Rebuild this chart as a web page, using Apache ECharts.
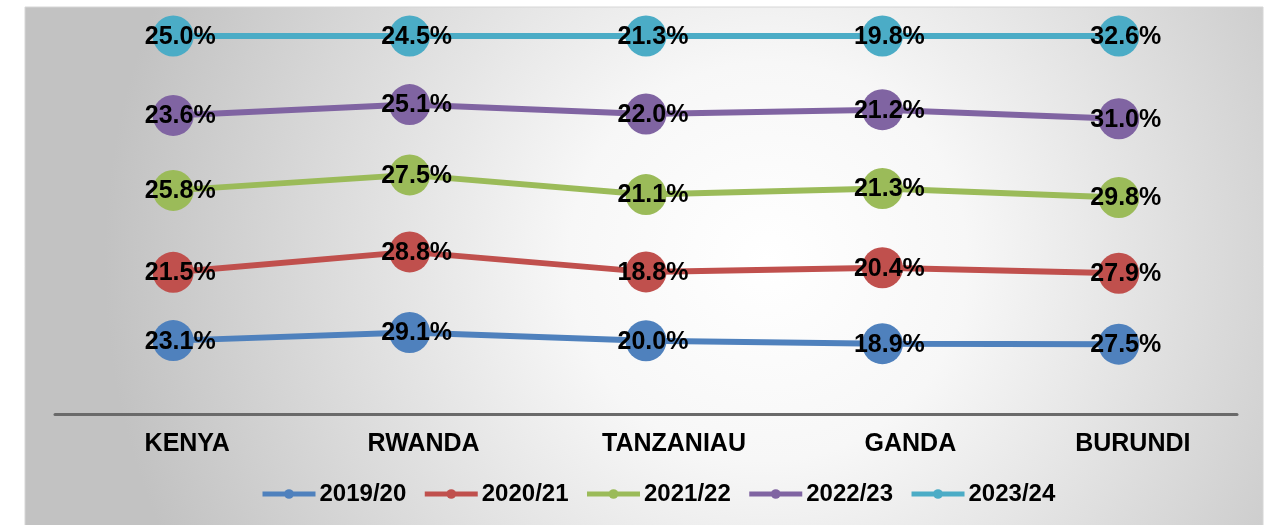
<!DOCTYPE html>
<html>
<head>
<meta charset="utf-8">
<script src="https://cdn.jsdelivr.net/npm/echarts@6/dist/echarts.min.js"></script>
<style>
  html, body { margin: 0; padding: 0; background: #ffffff; }
  #chart { width: 1267px; height: 525px; }
</style>
</head>
<body>
<div id="chart"></div>
<script>
const countries = ['KENYA', 'RWANDA', 'TANZANIAU', 'GANDA', 'BURUNDI'];
const seasons = ['2019/20', '2020/21', '2021/22', '2022/23', '2023/24'];

const share1920 = [23.1, 29.1, 20.0, 18.9, 27.5];
const share2021 = [21.5, 28.8, 18.8, 20.4, 27.9];
const share2122 = [25.8, 27.5, 21.1, 21.3, 29.8];
const share2223 = [23.6, 25.1, 22.0, 21.2, 31.0];
const share2324 = [25.0, 24.5, 21.3, 19.8, 32.6];

const seriesValues = [share1920, share2021, share2122, share2223, share2324];
const colors = ['#4F81BD', '#C0504D', '#9BBB59', '#8064A2', '#4BACC6'];

// 100% stacked: each point is its share of the country total
const totals = countries.map((c, i) => seriesValues.reduce((s, arr) => s + arr[i], 0));

const chart = echarts.init(document.getElementById('chart'));

const series = seasons.map((name, k) => ({
  name: name,
  type: 'line',
  stack: 'total',
  clip: false,
  symbol: 'circle',
  symbolSize: 41,
  lineStyle: { width: 6 },
  data: seriesValues[k].map((v, i) => ({ value: v / totals[i] * 100, raw: v })),
  label: {
    show: true,
    position: 'inside',
    offset: [7, 1],
    formatter: p => p.data.raw.toFixed(1) + '%',
    color: '#000000',
    fontSize: 25,
    fontWeight: 'bold',
    fontFamily: 'Liberation Sans'
  },
  emphasis: { disabled: true }
}));

const catFont = { color: '#000000', fontSize: 25, fontWeight: 'bold', fontFamily: 'Liberation Sans' };

const option = {
  animation: false,
  color: colors,
  graphic: [{
    type: 'rect',
    silent: true,
    z: -10,
    shape: { x: 25, y: 7, width: 1238, height: 530 },
    style: {
      stroke: '#d6d6d6',
      lineWidth: 1,
      fill: {
        type: 'radial', x: 0.6, y: 0.48, r: 1.25,
        colorStops: [
          { offset: 0, color: '#ffffff' },
          { offset: 0.3, color: '#f7f7f7' },
          { offset: 1, color: '#c2c2c2' }
        ]
      }
    }
  }],
  grid: { left: 55, right: 30, top: 36, bottom: 111 },
  legend: {
    left: 255,
    top: 477,
    itemWidth: 53,
    itemHeight: 12,
    itemGap: 16,
    lineStyle: { width: 5 },
    textStyle: {
      color: '#000000',
      fontSize: 24,
      fontWeight: 'bold',
      fontFamily: 'Liberation Sans',
      padding: [0, 0, 0, -1]
    },
    data: seasons
  },
  xAxis: {
    type: 'category',
    data: countries,
    axisLine: { lineStyle: { color: '#6a6a6a', width: 3 } },
    axisTick: { show: false },
    axisLabel: {
      margin: 18,
      formatter: (v, i) => (i === 2 || i === 3 ? '{b|' : '{a|') + v + '}',
      rich: {
        a: Object.assign({ padding: [0, 0, 0, 28] }, catFont),
        b: Object.assign({ padding: [0, 0, 0, 56] }, catFont)
      }
    }
  },
  yAxis: {
    type: 'value',
    min: 0,
    max: 100,
    show: false,
    splitLine: { show: false }
  },
  series: series
};

chart.setOption(option);
</script>
</body>
</html>
